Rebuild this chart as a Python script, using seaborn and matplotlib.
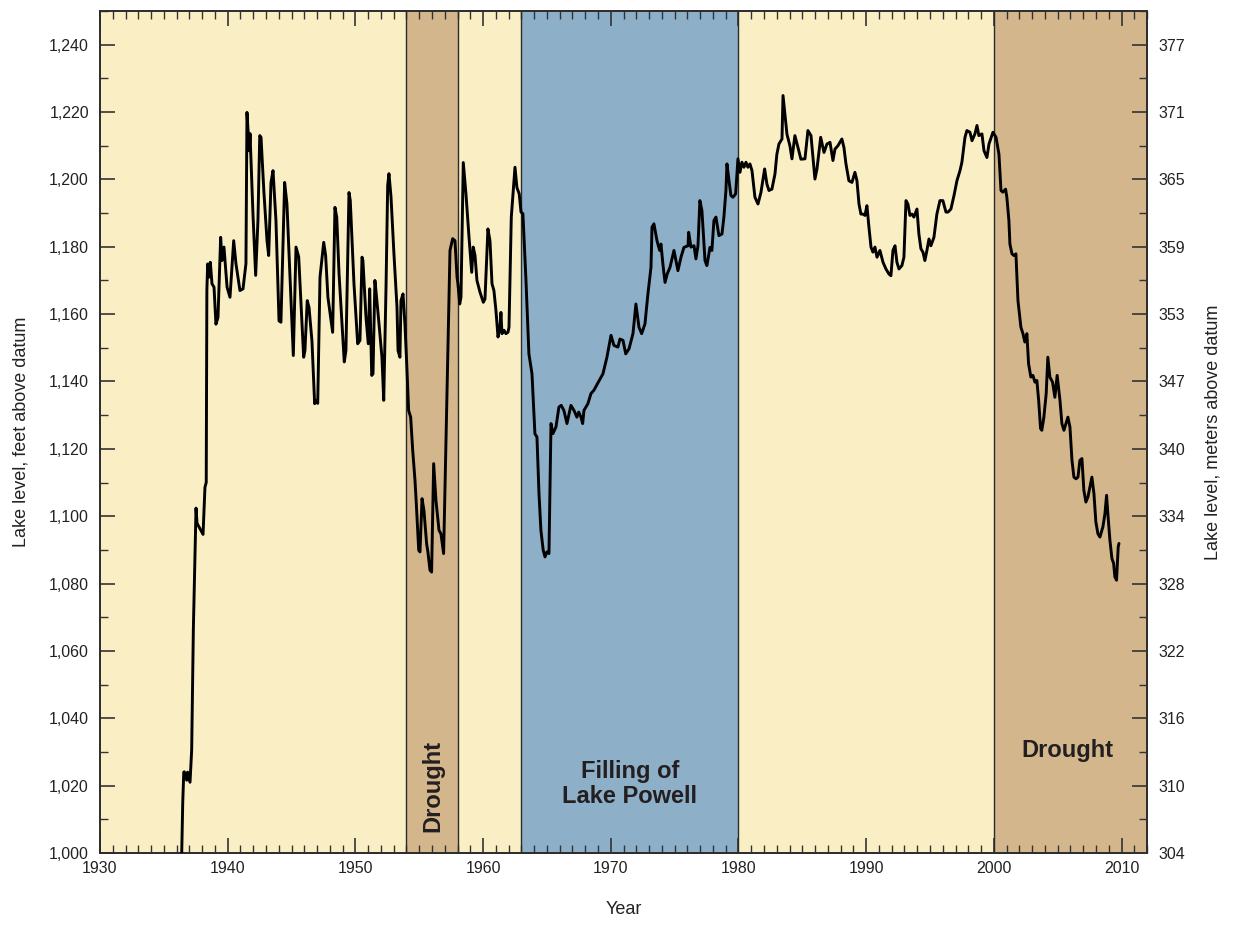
import matplotlib
matplotlib.use("Agg")
import matplotlib.pyplot as plt
from matplotlib.ticker import MultipleLocator, FixedLocator
import numpy as np
import pandas as pd
import seaborn as sns

# Lake Mead water-surface elevation (feet above datum) by decimal year
years = [
    1936.40, 1936.48, 1936.56, 1936.60, 1936.79, 1936.86, 1937.05, 1937.18, 1937.31, 1937.52,
    1937.60, 1938.07, 1938.22, 1938.32, 1938.37, 1938.43, 1938.54, 1938.64, 1938.77, 1938.93,
    1939.08, 1939.24, 1939.45, 1939.55, 1939.71, 1939.95, 1940.18, 1940.47, 1940.65, 1940.96,
    1941.20, 1941.43, 1941.51, 1941.69, 1941.75, 1941.98, 1942.19, 1942.37, 1942.51, 1942.61,
    1942.84, 1943.08, 1943.21, 1943.39, 1943.55, 1943.78, 1944.02, 1944.17, 1944.46, 1944.64,
    1944.88, 1945.14, 1945.35, 1945.56, 1945.74, 1945.95, 1946.05, 1946.23, 1946.37, 1946.60,
    1946.81, 1946.91, 1947.05, 1947.23, 1947.52, 1947.67, 1947.85, 1948.22, 1948.40, 1948.54,
    1948.72, 1949.13, 1949.26, 1949.50, 1949.60, 1949.89, 1950.18, 1950.36, 1950.52, 1950.59,
    1950.83, 1951.01, 1951.12, 1951.22, 1951.28, 1951.38, 1951.53, 1951.61, 1951.85, 1952.08,
    1952.22, 1952.40, 1952.53, 1952.63, 1952.79, 1953.02, 1953.26, 1953.34, 1953.49, 1953.57,
    1953.73, 1953.88, 1954.02, 1954.17, 1954.33, 1954.49, 1954.67, 1954.77, 1954.96, 1955.06,
    1955.22, 1955.37, 1955.58, 1955.68, 1955.84, 1955.97, 1956.13, 1956.31, 1956.55, 1956.70,
    1956.91, 1957.23, 1957.41, 1957.62, 1957.80, 1957.96, 1958.03, 1958.17, 1958.27, 1958.45,
    1958.66, 1958.90, 1959.11, 1959.23, 1959.37, 1959.52, 1959.76, 1960.02, 1960.15, 1960.38,
    1960.54, 1960.70, 1960.85, 1961.01, 1961.17, 1961.32, 1961.40, 1961.48, 1961.64, 1961.79,
    1961.95, 1962.03, 1962.21, 1962.50, 1962.65, 1962.83, 1962.97, 1963.12, 1963.36, 1963.59,
    1963.83, 1964.06, 1964.22, 1964.38, 1964.53, 1964.71, 1964.85, 1965.00, 1965.16, 1965.32,
    1965.47, 1965.71, 1965.94, 1966.12, 1966.33, 1966.57, 1966.88, 1967.12, 1967.35, 1967.49,
    1967.67, 1967.80, 1967.90, 1968.21, 1968.45, 1968.68, 1969.39, 1969.70, 1970.02, 1970.25,
    1970.56, 1970.72, 1970.96, 1971.17, 1971.43, 1971.74, 1971.97, 1972.21, 1972.42, 1972.68,
    1972.91, 1973.15, 1973.23, 1973.38, 1973.62, 1973.83, 1973.93, 1974.11, 1974.25, 1974.42,
    1974.64, 1974.95, 1975.26, 1975.50, 1975.73, 1976.05, 1976.10, 1976.28, 1976.52, 1976.67,
    1976.83, 1976.98, 1977.14, 1977.38, 1977.53, 1977.77, 1977.92, 1978.08, 1978.24, 1978.47,
    1978.71, 1978.86, 1979.02, 1979.10, 1979.26, 1979.41, 1979.57, 1979.78, 1979.96, 1980.12,
    1980.27, 1980.43, 1980.59, 1980.74, 1980.90, 1981.06, 1981.29, 1981.53, 1981.76, 1982.05,
    1982.23, 1982.39, 1982.62, 1982.86, 1983.01, 1983.17, 1983.41, 1983.49, 1983.64, 1983.80,
    1984.03, 1984.19, 1984.42, 1984.66, 1984.89, 1985.21, 1985.44, 1985.68, 1985.99, 1986.15,
    1986.44, 1986.70, 1986.93, 1987.17, 1987.40, 1987.56, 1987.79, 1988.10, 1988.26, 1988.42,
    1988.65, 1988.89, 1989.12, 1989.28, 1989.44, 1989.59, 1989.75, 1989.91, 1990.06, 1990.22,
    1990.38, 1990.53, 1990.69, 1990.85, 1991.08, 1991.32, 1991.55, 1991.79, 1991.94, 1992.10,
    1992.26, 1992.41, 1992.57, 1992.80, 1992.96, 1993.12, 1993.27, 1993.43, 1993.59, 1993.74,
    1993.98, 1994.13, 1994.29, 1994.45, 1994.60, 1994.76, 1994.92, 1995.07, 1995.31, 1995.54,
    1995.78, 1996.01, 1996.25, 1996.41, 1996.64, 1996.88, 1997.11, 1997.35, 1997.50, 1997.74,
    1997.89, 1998.13, 1998.29, 1998.52, 1998.68, 1998.83, 1999.07, 1999.23, 1999.46, 1999.62,
    1999.93, 2000.17, 2000.40, 2000.56, 2000.71, 2000.92, 2001.02, 2001.18, 2001.26, 2001.42,
    2001.57, 2001.73, 2001.89, 2002.12, 2002.28, 2002.43, 2002.59, 2002.72, 2002.90, 2003.06,
    2003.22, 2003.37, 2003.51, 2003.66, 2003.76, 2003.92, 2004.10, 2004.23, 2004.39, 2004.60,
    2004.78, 2004.96, 2005.18, 2005.33, 2005.49, 2005.65, 2005.80, 2005.96, 2006.12, 2006.27,
    2006.43, 2006.59, 2006.74, 2006.90, 2007.05, 2007.21, 2007.37, 2007.58, 2007.68, 2007.84,
    2007.99, 2008.15, 2008.31, 2008.54, 2008.70, 2008.83, 2008.93, 2009.09, 2009.25, 2009.38,
    2009.48, 2009.61, 2009.74, 2009.80,
]

level_ft = [
    1000.0, 1015.0, 1024.0, 1024.1, 1021.6, 1024.0, 1021.0, 1030.6, 1066.2, 1102.4,
    1097.9, 1094.6, 1108.6, 1110.0, 1167.0, 1174.9, 1171.0, 1175.4, 1169.0, 1168.0,
    1157.0, 1159.0, 1182.8, 1175.9, 1179.9, 1168.0, 1165.0, 1181.8, 1174.9, 1167.0,
    1167.5, 1175.0, 1219.9, 1208.5, 1213.6, 1189.7, 1171.5, 1187.8, 1213.0, 1212.5,
    1196.0, 1181.8, 1177.4, 1199.0, 1202.6, 1187.8, 1158.0, 1157.6, 1199.1, 1192.7,
    1171.0, 1147.7, 1179.9, 1177.0, 1163.0, 1147.2, 1149.2, 1164.0, 1162.0, 1152.0,
    1133.4, 1134.4, 1133.5, 1171.0, 1181.3, 1177.4, 1165.0, 1154.6, 1191.7, 1188.8,
    1172.0, 1145.8, 1149.2, 1196.1, 1193.7, 1169.0, 1151.2, 1152.2, 1176.9, 1175.9,
    1159.1, 1151.2, 1167.5, 1151.2, 1141.8, 1142.3, 1170.0, 1167.0, 1157.1, 1147.2,
    1134.4, 1168.0, 1198.2, 1201.7, 1194.8, 1177.9, 1162.0, 1149.2, 1147.2, 1164.0,
    1166.0, 1157.1, 1145.3, 1131.4, 1129.4, 1119.5, 1110.6, 1103.8, 1089.9, 1089.4,
    1105.2, 1101.7, 1091.8, 1089.4, 1084.0, 1083.4, 1115.6, 1104.7, 1095.8, 1094.8,
    1088.9, 1147.2, 1178.9, 1182.4, 1181.8, 1171.0, 1169.0, 1163.0, 1165.0, 1205.0,
    1195.7, 1182.8, 1172.4, 1179.9, 1177.4, 1170.0, 1166.5, 1163.5, 1164.5, 1185.3,
    1181.8, 1169.0, 1167.0, 1161.0, 1153.2, 1156.1, 1160.5, 1154.2, 1155.2, 1154.2,
    1154.6, 1156.1, 1188.8, 1203.6, 1197.6, 1195.7, 1190.3, 1189.8, 1170.0, 1148.2,
    1142.3, 1124.5, 1123.5, 1106.7, 1095.8, 1089.9, 1087.9, 1089.4, 1088.9, 1127.5,
    1124.5, 1126.5, 1132.4, 1132.9, 1131.4, 1127.5, 1132.9, 1131.4, 1129.4, 1130.9,
    1129.4, 1127.5, 1131.4, 1133.4, 1136.4, 1137.4, 1142.3, 1147.2, 1153.7, 1150.7,
    1150.2, 1152.6, 1152.2, 1148.2, 1149.7, 1154.2, 1163.0, 1156.1, 1154.2, 1157.1,
    1166.0, 1173.9, 1185.8, 1186.8, 1181.8, 1178.9, 1180.8, 1173.9, 1169.4, 1171.9,
    1173.9, 1178.9, 1172.9, 1176.9, 1179.8, 1180.3, 1184.3, 1179.9, 1180.3, 1176.4,
    1180.3, 1193.7, 1190.7, 1175.9, 1174.4, 1179.8, 1178.9, 1187.8, 1188.8, 1183.3,
    1183.8, 1188.8, 1196.7, 1204.6, 1199.6, 1195.2, 1194.7, 1195.7, 1206.1, 1202.1,
    1205.1, 1203.6, 1205.1, 1203.6, 1204.6, 1202.6, 1194.7, 1192.7, 1196.1, 1203.1,
    1198.6, 1196.7, 1197.1, 1201.6, 1207.5, 1210.5, 1212.0, 1224.9, 1219.4, 1213.4,
    1210.0, 1206.1, 1213.0, 1209.5, 1206.0, 1206.1, 1214.5, 1213.0, 1200.1, 1203.1,
    1212.5, 1208.0, 1210.5, 1211.0, 1205.6, 1209.0, 1210.0, 1212.0, 1209.5, 1204.6,
    1199.6, 1199.1, 1202.1, 1199.6, 1192.7, 1189.7, 1189.7, 1189.3, 1192.2, 1185.8,
    1179.9, 1178.4, 1179.9, 1176.9, 1178.9, 1175.4, 1173.4, 1171.9, 1171.4, 1178.9,
    1180.3, 1175.4, 1173.4, 1174.4, 1176.9, 1193.7, 1192.7, 1189.3, 1189.7, 1188.8,
    1191.2, 1183.8, 1179.4, 1178.4, 1175.9, 1178.9, 1182.3, 1180.3, 1182.8, 1189.7,
    1193.7, 1193.7, 1190.3, 1190.3, 1191.2, 1195.2, 1199.6, 1202.6, 1205.1, 1212.5,
    1214.5, 1214.0, 1211.5, 1213.5, 1216.0, 1213.0, 1213.5, 1208.5, 1206.5, 1210.5,
    1214.0, 1212.5, 1207.5, 1196.7, 1196.2, 1197.1, 1194.7, 1187.8, 1180.8, 1177.9,
    1177.4, 1177.9, 1164.0, 1156.1, 1154.2, 1151.7, 1154.2, 1145.3, 1141.3, 1141.8,
    1139.8, 1140.3, 1134.4, 1126.0, 1125.5, 1129.4, 1136.4, 1147.2, 1141.3, 1139.8,
    1135.3, 1141.8, 1134.4, 1127.5, 1125.5, 1127.5, 1129.4, 1126.5, 1116.6, 1111.6,
    1111.1, 1111.6, 1116.6, 1117.1, 1107.7, 1104.2, 1105.7, 1109.6, 1111.6, 1106.7,
    1098.3, 1094.8, 1093.8, 1096.8, 1100.7, 1106.2, 1100.7, 1092.9, 1087.4, 1086.0,
    1082.0, 1081.0, 1090.9, 1091.9,
]

# Climatic / operational periods shading the background
period_starts = [1930, 1954, 1958, 1963, 1980, 2000]
period_ends = [1954, 1958, 1963, 1980, 2000, 2012]
period_kinds = ["normal", "drought", "normal", "powell", "normal", "drought"]
period_colors = {"normal": "#FAEFC4", "drought": "#D3B68B", "powell": "#8DAFC7"}

# Left axis (feet) ticks and matching right axis (meters) labels
ft_ticks = [1000, 1020, 1040, 1060, 1080, 1100, 1120, 1140, 1160, 1180, 1200, 1220, 1240]
m_labels = ["304", "310", "316", "322", "328", "334", "340", "347", "353", "359", "365", "371", "377"]
FT_TO_M = 0.3048

sns.set_theme(style="white")
plt.rcParams["font.family"] = ["Liberation Sans", "DejaVu Sans"]

df = pd.DataFrame({"year": years, "level": level_ft})

fig = plt.figure(figsize=(12.33, 9.32), dpi=100)
ax = fig.add_axes([0.0811, 0.0848, 0.8492, 0.9034])

for s, e, k in zip(period_starts, period_ends, period_kinds):
    ax.axvspan(s, e, color=period_colors[k], lw=0, zorder=0)
for b in period_starts[1:]:
    ax.axvline(b, color="#2b2b2b", lw=1.0, zorder=1)

sns.lineplot(data=df, x="year", y="level", ax=ax, color="black",
             linewidth=2.1, estimator=None, sort=False, zorder=3)

ax.set_xlim(1930, 2012)
ax.set_ylim(1000, 1250)

tick_color = "#333333"
text_color = "#222222"
ax.xaxis.set_major_locator(MultipleLocator(10))
ax.xaxis.set_minor_locator(MultipleLocator(1))
ax.yaxis.set_major_locator(FixedLocator(ft_ticks))
ax.yaxis.set_minor_locator(MultipleLocator(10))
ax.set_yticklabels([f"{v:,}" for v in ft_ticks])
ax.tick_params(axis="x", which="major", direction="in", length=11, width=1.2,
               top=True, bottom=True, color=tick_color, labelsize=11.5, pad=6,
               labelcolor=text_color)
ax.tick_params(axis="x", which="minor", direction="in", length=5.5, width=1.0,
               top=True, bottom=True, color=tick_color)
ax.tick_params(axis="y", which="major", direction="in", length=11, width=1.2,
               left=True, right=False, color=tick_color, labelsize=11.5, pad=8,
               labelcolor=text_color)
ax.tick_params(axis="y", which="minor", direction="in", length=5.5, width=1.0,
               left=True, right=False, color=tick_color)
for sp in ax.spines.values():
    sp.set_color("#2b2b2b")
    sp.set_linewidth(1.4)

ax.set_xlabel("Year", fontsize=13, color=text_color, labelpad=18)
ax.set_ylabel("Lake level, feet above datum", fontsize=13, color=text_color, labelpad=14)

# Secondary axis in meters
ax2 = ax.twinx()
ax2.set_ylim(1000 * FT_TO_M, 1250 * FT_TO_M)
ax2.yaxis.set_major_locator(FixedLocator([v * FT_TO_M for v in ft_ticks]))
ax2.yaxis.set_minor_locator(FixedLocator([(v + 10) * FT_TO_M for v in ft_ticks]))
ax2.set_yticklabels(m_labels)
ax2.tick_params(axis="y", which="major", direction="in", length=11, width=1.2,
                color=tick_color, labelsize=11.5, pad=8, labelcolor=text_color)
ax2.tick_params(axis="y", which="minor", direction="in", length=5.5, width=1.0,
                color=tick_color)
ax2.grid(False)
for sp in ax2.spines.values():
    sp.set_visible(False)
ax2.set_ylabel("Lake level, meters above datum", fontsize=13, color=text_color,
               labelpad=14)

# Period annotations
ax.text(1956.1, 1020, "Drought", rotation=90, ha="center", va="center",
        fontsize=17, fontweight="bold", color="#231f20")
ax.text(1971.5, 1020.5, "Filling of\nLake Powell", ha="center", va="center",
        fontsize=17, fontweight="bold", color="#231f20", linespacing=1.1)
ax.text(2005.8, 1030.5, "Drought", ha="center", va="center",
        fontsize=17, fontweight="bold", color="#231f20")

fig.savefig("out.png", dpi=100)
